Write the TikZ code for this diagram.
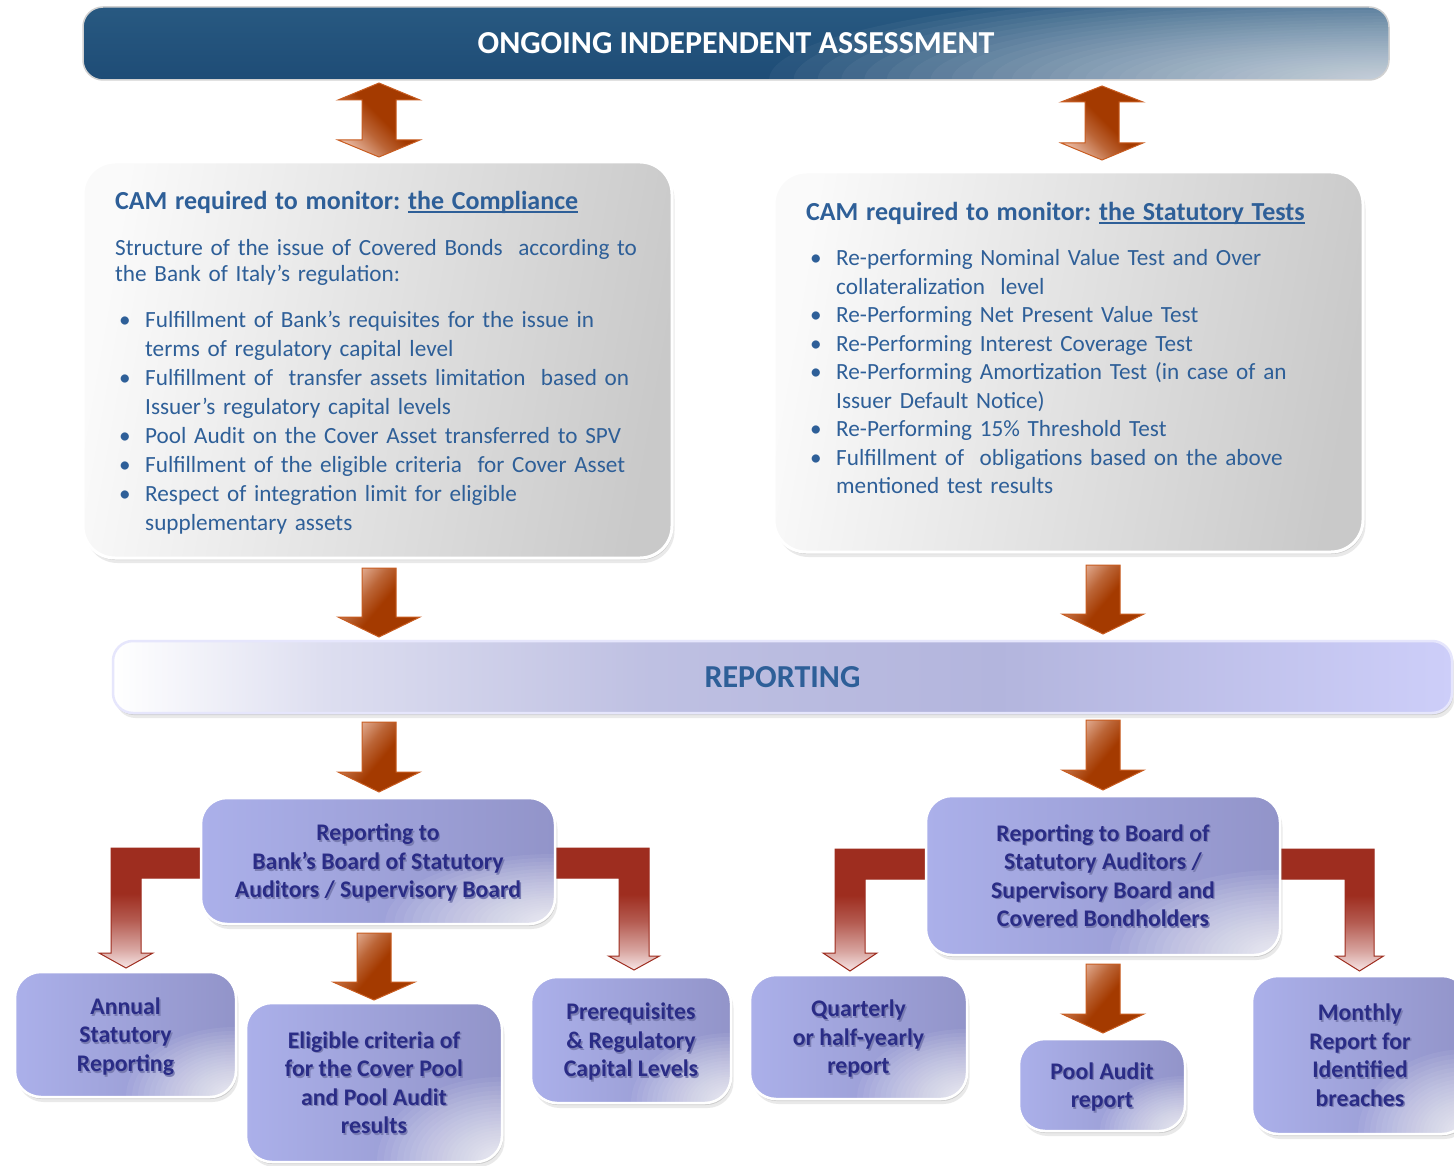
\documentclass[tikz,border=0pt]{standalone}
\usepackage{fontspec}
\setmainfont{Carlito}
\usetikzlibrary{shadows}
\frenchspacing

\definecolor{bdark}{HTML}{1E4C76}
\definecolor{btop}{HTML}{285981}
\definecolor{blight}{HTML}{E2E8EF}
\definecolor{txtblue}{HTML}{2E5F98}
\definecolor{navy}{HTML}{2A2C86}
\definecolor{tshadow}{HTML}{7A7DB2}
\definecolor{arrdark}{HTML}{A43A00}
\definecolor{arrlight}{HTML}{E6B49C}
\definecolor{arredge}{HTML}{C85C20}
\definecolor{lred}{HTML}{9E2D1F}
\definecolor{lredlight}{HTML}{F7E6E6}
\definecolor{lav1}{HTML}{ABB0EA}
\definecolor{lav2}{HTML}{9294C9}
\definecolor{rep1}{HTML}{B3B5DD}
\definecolor{rep2}{HTML}{CDCEF9}

\pgfdeclarehorizontalshading{repshade}{100bp}{color(0bp)=(white); color(25bp)=(white); color(33bp)=(white!55!rep1); color(45bp)=(rep1!85!white); color(58bp)=(rep1); color(75bp)=(rep2); color(100bp)=(rep2)}
\pgfdeclarehorizontalshading{arrshade}{100bp}{color(0bp)=(arrlight); color(25bp)=(arrlight); color(40bp)=(arrdark!65!arrlight); color(52bp)=(arrdark); color(100bp)=(arrdark)}
\pgfdeclareverticalshading{lshade}{100bp}{color(0bp)=(lredlight); color(25bp)=(lredlight); color(33bp)=(lred!35!lredlight); color(45bp)=(lred!75!lredlight); color(56bp)=(lred); color(100bp)=(lred)}

\newcommand\shtxt[1]{\raisebox{0pt}[\dimexpr\height+7pt\relax][\depth]{\leavevmode\rlap{\kern1.4pt\raisebox{-1.6pt}{\textcolor{tshadow}{\begin{tabular}{@{}c@{}}#1\end{tabular}}}}\begin{tabular}{@{}c@{}}#1\end{tabular}}}
\newcommand\ulc[1]{\setbox0=\hbox{#1}\leavevmode\rlap{\rule[-3.5pt]{\wd0}{1.7pt}}\box0}
\newcommand\bul[1]{\par\noindent\hangindent=30pt\hangafter=1\makebox[30pt][l]{\hspace{4pt}•}#1\par}
\newcommand\nl{\hfil\break}

% down block arrow: cx, ytop, ybase, yapex
\newcommand\dnarrow[4]{\path[orarrow] ({#1-17},#2) -- ({#1+17},#2) -- ({#1+17},#3) -- ({#1+41},#3) -- (#1,#4) -- ({#1-41},#3) -- ({#1-17},#3) -- cycle;}
% double block arrow: cx, yapex1, ybase1, ybase2, yapex2
\newcommand\dblarrow[5]{\path[orarrow, shading angle=45] (#1,#2) -- ({#1+41},#3) -- ({#1+17},#3) -- ({#1+17},#4) -- ({#1+41},#4) -- (#1,#5) -- ({#1-41},#4) -- ({#1-17},#4) -- ({#1-17},#3) -- ({#1-41},#3) -- cycle;}
% L arrow: xstart, xouter, xinner, ybartop, ybarbot, yheadbase, yapex, headfrac
\newcommand\Larrow[8]{\path[larrow] (#1,#4) -- (#2,#4) -- (#2,#6) -- ({#2+(#2-#3)*#8},#6) -- ({(#2+#3)/2},#7) -- ({#3-(#2-#3)*#8},#6) -- (#3,#6) -- (#3,#5) -- (#1,#5) -- cycle;}

\tikzset{
  softshadow/.style={drop shadow={shadow xshift=1pt, shadow yshift=-2pt, opacity=0.22, fill=black!60},
                     drop shadow={shadow xshift=2.5pt, shadow yshift=-5pt, opacity=0.14, fill=black!60}},
  banner/.style={rounded corners=20pt, draw=black!18, line width=1.5pt, top color=btop, bottom color=bdark,
     text=white, font=\fontsize{32}{38}\selectfont\bfseries, inner sep=0pt,
     path picture={\foreach \i in {1,...,50} \fill[blight, opacity=0.05] (path picture bounding box.south east) ellipse ({620*(\i/50)^2} and {95*(\i/50)^2});}},
  repbanner/.style={rounded corners=20pt, draw=rep2!50!white, line width=2.5pt, shade, shading=repshade,
     text=txtblue, font=\fontsize{32}{38}\selectfont\bfseries, inner sep=0pt, softshadow},
  graybox/.style={rounded corners=32pt, draw=white, line width=3pt, left color=black!2, right color=black!21, shading angle=80, softshadow},
  lavbox/.style 2 args={rounded corners=26pt, draw=white, line width=2.5pt, left color=lav1, right color=lav2,
     text=navy, font=\fontsize{23.8}{28.5}\selectfont\bfseries, inner sep=0pt, softshadow,
     path picture={\foreach \i in {1,...,36} \fill[white, opacity=0.062] (path picture bounding box.south east) ellipse ({#1*(\i/36)^2} and {#2*(\i/36)^2});}},
  bodytext/.style={anchor=north west, inner sep=0pt, text=txtblue, font=\fontsize{23.2}{29}\selectfont},
  orarrow/.style={draw=arredge, line width=1pt, shade, shading=arrshade, shading angle=-40},
  larrow/.style={draw=lred, line width=1pt, shade, shading=lshade}
}

\begin{document}
\begin{tikzpicture}[x=1pt,y=-1pt]
\useasboundingbox (0,0) rectangle (1454,1166);
\clip (0,0) rectangle (1454,1166);
\fill[white] (0,0) rectangle (1454,1166);

% top banner
\node[banner, minimum width=1306pt, minimum height=73pt] (assess) at (736,43.5) {\raisebox{-2pt}{ONGOING INDEPENDENT ASSESSMENT}};

% double arrows
\dblarrow{379}{83}{100}{140}{157}
\dblarrow{1102}{86}{102}{143}{160}

% monitoring boxes
\node[graybox, minimum width=589pt, minimum height=396pt] (compl) at (377.5,360) {};
\node[graybox, minimum width=589pt, minimum height=380pt] (stat) at (1068.5,362) {};

\node[bodytext, text width=560pt] (compltext) at (115,191) {%
\setlength\parindent{0pt}%
{\fontsize{26}{30}\selectfont\bfseries CAM required to monitor: \ulc{the Compliance}\par}
\vspace{20pt}
{\baselineskip=26pt Structure of the issue of Covered Bonds\ \ according to\nl the Bank of Italy’s regulation:\par}
\vspace{17pt}
\bul{Fulfillment of Bank’s requisites for the issue in\nl terms of regulatory capital level}
\bul{Fulfillment of\ \ transfer assets limitation\ \ based on\nl Issuer’s regulatory capital levels}
\bul{Pool Audit on the Cover Asset transferred to SPV}
\bul{Fulfillment of the eligible criteria\ \ for Cover Asset}
\bul{Respect of integration limit for eligible\nl supplementary assets}};

\node[bodytext, text width=560pt, font=\fontsize{23.2}{28.5}\selectfont] (stattext) at (806,202) {%
\setlength\parindent{0pt}%
{\fontsize{26}{30}\selectfont\bfseries CAM required to monitor: \ulc{the Statutory Tests}\par}
\vspace{17pt}
\bul{Re-performing Nominal Value Test and Over\nl collateralization\ \ level}
\bul{Re-Performing Net Present Value Test}
\bul{Re-Performing Interest Coverage Test}
\bul{Re-Performing Amortization Test (in case of an\nl Issuer Default Notice)}
\bul{Re-Performing 15\% Threshold Test}
\bul{Fulfillment of\ \ obligations based on the above\nl mentioned test results}};

% arrows to reporting
\dnarrow{379}{568}{617}{637}
\dnarrow{1103}{565}{614}{634}

% reporting banner
\node[repbanner, minimum width=1339pt, minimum height=72pt] (report) at (782.5,677) {\raisebox{-2pt}{REPORTING}};

% arrows from reporting
\dnarrow{379}{722}{772}{792}
\dnarrow{1103}{720}{770}{790}

% L arrows and central arrows
\Larrow{205}{111}{141}{848}{878}{953}{968}{0.4}
\Larrow{550}{649}{619}{848}{878}{956}{970}{0.35}
\Larrow{930}{835}{865}{849}{879}{953}{971}{0.4}
\Larrow{1276}{1374}{1345}{849}{879}{956}{971}{0.33}
\dnarrow{374}{933}{982}{1000}
\dnarrow{1103}{964}{1014}{1033}

% left reporting tree
\node[lavbox={170}{70}, minimum width=354pt, minimum height=126pt] (bankboard) at (378,861) {\shtxt{Reporting to\\Bank’s Board of Statutory\\Auditors / Supervisory Board}};
\node[lavbox={110}{70}, minimum width=221pt, minimum height=125pt] (annual) at (125.5,1034.5) {\shtxt{Annual\\Statutory\\Reporting}};
\node[lavbox={125}{85}, minimum width=256pt, minimum height=159pt] (eligible) at (374,1082.5) {\shtxt{Eligible criteria of\\for the Cover Pool\\and Pool Audit\\results}};
\node[lavbox={100}{70}, minimum width=200pt, minimum height=126pt] (prereq) at (631,1040) {\shtxt{Prerequisites\\\& Regulatory\\Capital Levels}};

% right reporting tree
\node[lavbox={170}{85}, minimum width=354pt, minimum height=159pt] (holders) at (1103,875.5) {\shtxt{Reporting to Board of\\Statutory Auditors /\\Supervisory Board and\\Covered Bondholders}};
\node[lavbox={110}{70}, minimum width=217pt, minimum height=124pt] (quarter) at (858.5,1037) {\shtxt{Quarterly\\or half-yearly\\report}};
\node[lavbox={85}{55}, minimum width=166pt, minimum height=92pt] (pool) at (1102,1085) {\shtxt{Pool Audit\\report}};
\node[lavbox={110}{85}, minimum width=216pt, minimum height=158pt] (monthly) at (1360,1055) {\shtxt{Monthly\\Report for\\Identified\\breaches}};
\end{tikzpicture}
\end{document}
